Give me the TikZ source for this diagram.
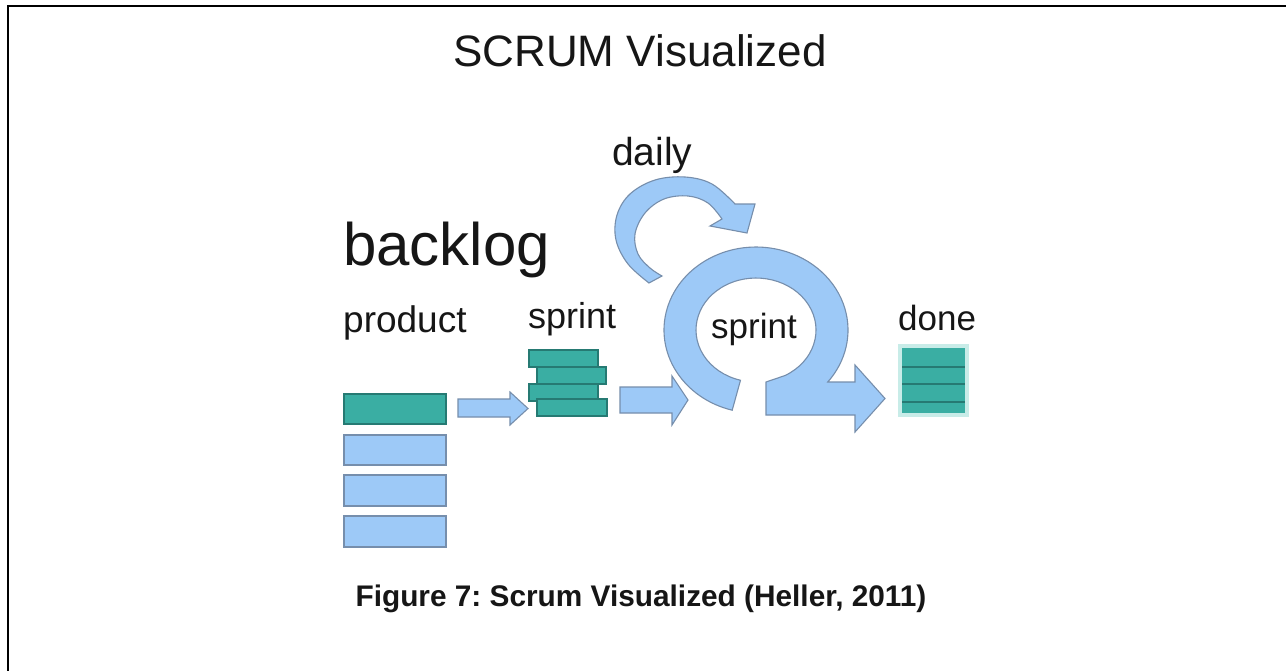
\documentclass[tikz,border=0pt]{standalone}
\usepackage{fontspec}
\setmainfont{Liberation Sans}
\frenchspacing
\definecolor{blueFill}{RGB}{157,201,247}
\definecolor{blueLine}{RGB}{118,142,172}
\definecolor{tealFill}{RGB}{58,174,163}
\definecolor{tealLine}{RGB}{38,122,115}
\definecolor{tealGlow}{RGB}{200,236,232}
\definecolor{ink}{RGB}{22,22,22}
\begin{document}
\begin{tikzpicture}[x=1pt,y=-1pt,
  bluebox/.style={fill=blueFill,draw=blueLine,line width=1.1pt},
  tealbox/.style={fill=tealFill,draw=tealLine,line width=1.1pt},
  bluearrow/.style={fill=blueFill,draw=blueLine,line width=1.1pt,line join=miter},
  lbl/.style={inner sep=0pt,text=ink,anchor=base west},
]
\useasboundingbox (0,0) rectangle (1286,670);
\fill[white] (0,0) rectangle (1286,670);
% page frame
\draw[line width=2.2pt] (8,675) -- (8,6) -- (1292,6);

% texts
\node[lbl,anchor=base] (title) at (640,66) {\fontsize{44}{50}\selectfont SCRUM Visualized};
\node[lbl] (daily) at (612,165) {\fontsize{39}{44}\selectfont daily};
\node[lbl] (backlog) at (343,265) {\fontsize{60}{66}\selectfont backlog};
\node[lbl] (product) at (343,332) {\fontsize{37}{42}\selectfont product};
\node[lbl] (sprintA) at (528,328) {\fontsize{36}{40}\selectfont sprint};
\node[lbl] (done) at (898,330) {\fontsize{35}{40}\selectfont done};

% product backlog stack
\draw[tealbox] (344,394) rectangle (446,424);
\draw[bluebox] (344,435) rectangle (446,465);
\draw[bluebox] (344,475) rectangle (446,506);
\draw[bluebox] (344,516) rectangle (446,547);

% arrow: product -> sprint backlog
\filldraw[bluearrow] (458,399) -- (510,399) -- (510,392) -- (528,408.5) -- (510,425) -- (510,417) -- (458,417) -- cycle;

% sprint backlog stack
\draw[tealbox] (529,350) rectangle (598,367);
\draw[tealbox] (537,367) rectangle (606,384);
\draw[tealbox] (529,384) rectangle (598,401);
\draw[tealbox] (537,399) rectangle (607,416);

% arrow: sprint backlog -> sprint
\filldraw[bluearrow] (620,387) -- (672,387) -- (672,376) -- (688,400) -- (672,425) -- (672,413) -- (620,413) -- cycle;

% daily loop arrow
\filldraw[bluearrow]
  plot[smooth,tension=0.6] coordinates {(649,283) (628,264) (616,240) (617,215) (630,194) (655,180) (685,177) (712,184) (735,204)}
  -- (755,204) -- (747,233) -- (710,226)
  -- plot[smooth,tension=0.6] coordinates {(722,219) (708,203) (688,196) (664,199) (645,213) (635,234) (638,254) (650,268) (662,276)}
  -- cycle;

% sprint loop turning into the arrow towards done
\filldraw[bluearrow] (732.2,410.2)
  arc[start angle=105,end angle=398.8,x radius=92,y radius=83]
  -- (855,382) -- (855,365) -- (885,398.5) -- (855,432) -- (855,415) -- (766,415) -- (766,382)
  -- (785.1,375.5)
  arc[start angle=61,end angle=-255,x radius=60,y radius=52]
  -- cycle;
\node[lbl] (sprintB) at (711,338) {\fontsize{35}{40}\selectfont sprint};

% done stack
\fill[tealGlow] (898,344) rectangle (969,417);
\fill[tealFill] (902,348) rectangle (965,413);
\foreach \yy in {367,384,402}
  \draw[tealLine,line width=1.4pt] (902,\yy) -- (965,\yy);

% caption
\node[lbl,anchor=base] (caption) at (641,606) {\fontsize{29.8}{34}\selectfont\bfseries Figure 7: Scrum Visualized (Heller, 2011)};
\end{tikzpicture}
\end{document}
